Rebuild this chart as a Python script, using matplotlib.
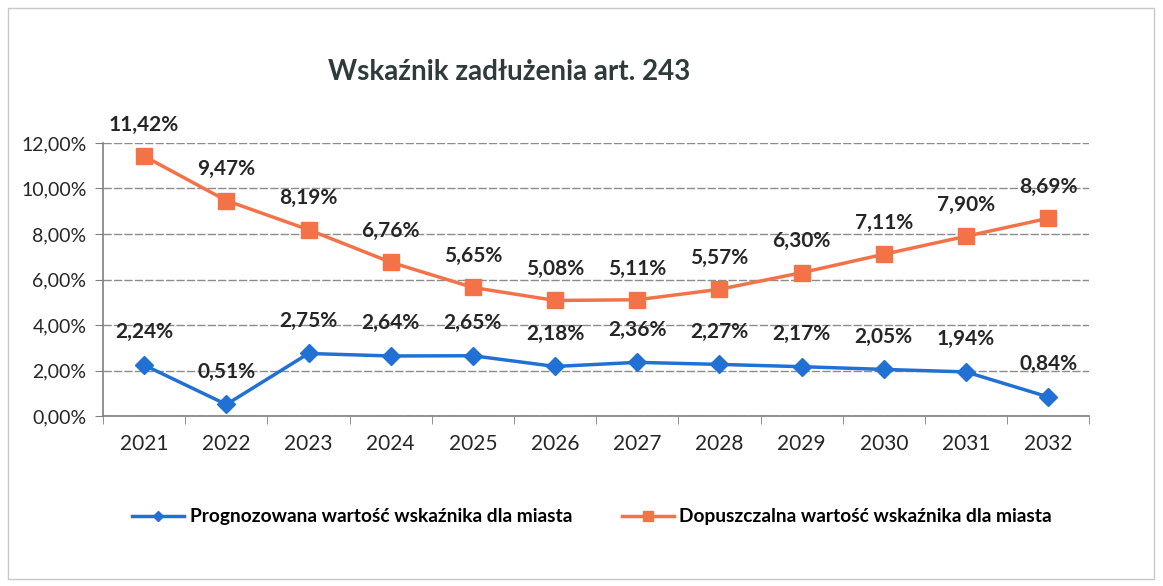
import matplotlib.pyplot as plt
from matplotlib.patches import Rectangle

# Chart data
years = ["2021", "2022", "2023", "2024", "2025", "2026", "2027", "2028", "2029", "2030", "2031", "2032"]
prognozowana = [2.24, 0.51, 2.75, 2.64, 2.65, 2.18, 2.36, 2.27, 2.17, 2.05, 1.94, 0.84]
dopuszczalna = [11.42, 9.47, 8.19, 6.76, 5.65, 5.08, 5.11, 5.57, 6.30, 7.11, 7.90, 8.69]
y_ticks = [0, 2, 4, 6, 8, 10, 12]

title = "Wskaźnik zadłużenia art. 243"
label_prog = "Prognozowana wartość wskaźnika dla miasta"
label_dop = "Dopuszczalna wartość wskaźnika dla miasta"

blue = "#2171d4"
orange = "#f47248"
text_color = "#262626"

plt.rcParams['font.family'] = ['Lato', 'DejaVu Sans']


def pct(v):
    return f"{v:.2f}".replace(".", ",") + "%"


fig = plt.figure(figsize=(11.63, 5.86), dpi=100)
ax = fig.add_axes([0.0886, 0.290, 0.848, 0.466])

x = list(range(len(years)))

ax.plot(x, dopuszczalna, color=orange, lw=2.5, marker="s", ms=11, zorder=3, label=label_dop)
ax.plot(x, prognozowana, color=blue, lw=2.5, marker="D", ms=9, zorder=3, label=label_prog)

# Data labels above points
for xi, v in zip(x, dopuszczalna):
    ax.annotate(pct(v), (xi, v), xytext=(0, 22.5), textcoords="offset points",
                ha="center", va="center", fontsize=15, fontweight="bold", color=text_color)
for xi, v in zip(x, prognozowana):
    ax.annotate(pct(v), (xi, v), xytext=(0, 23.5), textcoords="offset points",
                ha="center", va="center", fontsize=15, fontweight="bold", color=text_color)

ax.set_xlim(-0.5, len(years) - 0.5)
ax.set_ylim(0, 12)
ax.set_yticks(y_ticks)
ax.set_yticklabels([pct(v) for v in y_ticks], fontsize=14, color=text_color)
ax.set_xticks(x)
ax.set_xticklabels(years, fontsize=15, color=text_color)
ax.tick_params(axis="x", length=0, pad=13)
ax.set_xticks([i - 0.5 for i in range(len(years) + 1)], minor=True)
ax.tick_params(axis="x", which="minor", length=6, color="#7f7f7f", direction="out")
ax.tick_params(axis="y", length=6, color="#7f7f7f", direction="out", pad=6)

ax.yaxis.grid(True, color="#8c8c8c", lw=1.0, linestyle=(0, (6, 1.5)))
ax.set_axisbelow(True)
for side in ["top", "right"]:
    ax.spines[side].set_visible(False)
for side in ["left", "bottom"]:
    ax.spines[side].set_color("#7f7f7f")
    ax.spines[side].set_linewidth(1.2)

fig.text(0.438, 0.877, title, ha="center", va="center", fontsize=20,
         fontweight="bold", color="#2f3b3b")

# Legend (blue first, as in the reference)
handles, labels = ax.get_legend_handles_labels()
fig.legend(handles[::-1], labels[::-1], loc="center", bbox_to_anchor=(0.509, 0.118), ncol=2,
           frameon=False, prop={"weight": "bold", "size": 13.8},
           handlelength=2.7, handletextpad=0.3, columnspacing=2.6, markerscale=0.6)

# Scan frame
fig.patches.append(Rectangle((0.007, 0.012), 0.985, 0.975, transform=fig.transFigure,
                             fill=False, edgecolor="#c8c8c8", lw=1.0))

fig.savefig("out.png", dpi=100)
